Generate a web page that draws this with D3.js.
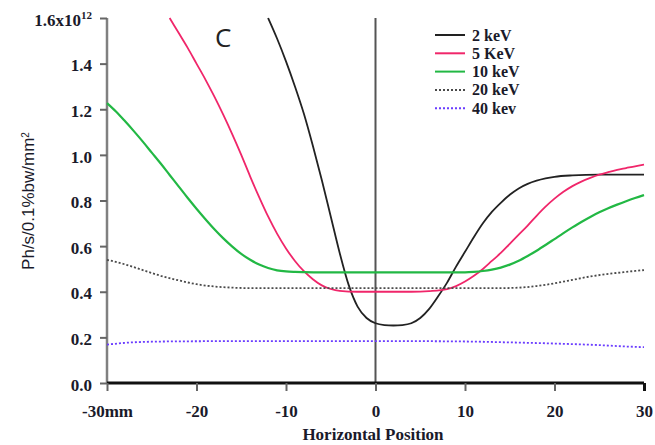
<!DOCTYPE html>
<html>
<head>
<meta charset="utf-8">
<script src="https://cdn.jsdelivr.net/npm/d3@7/dist/d3.min.js"></script>
<style>
  html, body { margin: 0; padding: 0; background: #fff; }
  svg { display: block; }
</style>
</head>
<body>
<svg id="chart" width="655" height="445"></svg>
<script>
// Horizontal flux profiles at several photon energies (units of 1e12 Ph/s/0.1%bw/mm^2)
const energies = ["2 keV", "5 KeV", "10 keV", "20 keV", "40 kev"];

const pos2keV = [-12, -11, -10, -9, -8, -7, -6, -5, -4, -3, -2, -1, 0, 1, 2, 3, 4, 5, 6, 7, 8, 9, 10, 11, 12, 13, 14, 15, 16, 17, 18, 19, 20, 22, 25, 30];
const flux2keV = [1.60, 1.51, 1.41, 1.30, 1.18, 1.04, 0.89, 0.73, 0.57, 0.43, 0.335, 0.285, 0.262, 0.254, 0.252, 0.254, 0.262, 0.285, 0.325, 0.38, 0.44, 0.51, 0.575, 0.64, 0.70, 0.75, 0.79, 0.825, 0.853, 0.873, 0.887, 0.897, 0.904, 0.91, 0.913, 0.913];

const pos5keV = [-23, -22, -21, -20, -19, -18, -17, -16, -15, -14, -13, -12, -11, -10, -9, -8, -7, -6, -5, -4, -2, 0, 2, 4, 6, 8, 9, 10, 11, 12, 13, 14, 15, 16, 17, 18, 19, 20, 21, 22, 23, 24, 25, 26, 27, 28, 29, 30];
const flux5keV = [1.60, 1.535, 1.47, 1.40, 1.33, 1.255, 1.175, 1.09, 1.00, 0.905, 0.815, 0.73, 0.655, 0.59, 0.535, 0.49, 0.455, 0.428, 0.412, 0.404, 0.40, 0.40, 0.40, 0.40, 0.403, 0.412, 0.425, 0.445, 0.47, 0.50, 0.535, 0.57, 0.61, 0.65, 0.69, 0.733, 0.773, 0.808, 0.838, 0.863, 0.883, 0.899, 0.913, 0.924, 0.934, 0.942, 0.95, 0.957];

const pos10keV = [-30, -29, -28, -27, -26, -25, -24, -23, -22, -21, -20, -19, -18, -17, -16, -15, -14, -13, -12, -11, -10, -9, -8, -6, 0, 10, 11, 12, 13, 14, 15, 16, 17, 18, 19, 20, 21, 22, 23, 24, 25, 26, 27, 28, 29, 30];
const flux10keV = [1.227, 1.19, 1.148, 1.104, 1.058, 1.01, 0.962, 0.912, 0.862, 0.812, 0.764, 0.718, 0.674, 0.634, 0.598, 0.566, 0.54, 0.519, 0.504, 0.494, 0.489, 0.487, 0.486, 0.485, 0.485, 0.485, 0.487, 0.491, 0.497, 0.506, 0.519, 0.536, 0.557, 0.58, 0.605, 0.631, 0.657, 0.682, 0.706, 0.728, 0.748, 0.766, 0.782, 0.797, 0.811, 0.824];

const pos20keV = [-30, -28, -26, -24, -22, -20, -18, -16, -14, 0, 14, 16, 18, 20, 22, 24, 26, 28, 30];
const flux20keV = [0.54, 0.52, 0.495, 0.47, 0.45, 0.433, 0.423, 0.418, 0.416, 0.416, 0.416, 0.418, 0.425, 0.437, 0.452, 0.467, 0.478, 0.487, 0.495];

const pos40keV = [-30, -28, -25, -20, -10, 0, 10, 15, 20, 25, 28, 30];
const flux40keV = [0.168, 0.176, 0.181, 0.183, 0.184, 0.184, 0.182, 0.178, 0.173, 0.166, 0.16, 0.157];

const xTicks = [-30, -20, -10, 0, 10, 20, 30];
const xTickLabels = ["-30mm", "-20", "-10", "0", "10", "20", "30"];
const yTicks = [0, 0.2, 0.4, 0.6, 0.8, 1.0, 1.2, 1.4, 1.6];
const yTickLabels = ["0.0", "0.2", "0.4", "0.6", "0.8", "1.0", "1.2", "1.4", "1.6x10"];

const seriesColors = ["#222222", "#f0266a", "#22b844", "#4a4a4a", "#6a3cff"];
const seriesDash = [null, null, null, "2,2", "2,2"];

const svg = d3.select("#chart");
const serif = "'Liberation Serif', 'DejaVu Serif', serif";

const x = d3.scaleLinear().domain([-30, 30]).range([107, 644]);
const y = d3.scaleLinear().domain([0, 1.6]).range([383, 18]);

// series table built from the arrays above
const positions = [pos2keV, pos5keV, pos10keV, pos20keV, pos40keV];
const fluxes = [flux2keV, flux5keV, flux10keV, flux20keV, flux40keV];
const series = energies.map((name, i) => ({
  name,
  color: seriesColors[i],
  dash: seriesDash[i],
  points: positions[i].map((p, j) => [p, fluxes[i][j]])
}));

// zero-position marker
svg.append("line")
  .attr("x1", x(0)).attr("x2", x(0))
  .attr("y1", y(1.6)).attr("y2", y(0))
  .attr("stroke", "#555").attr("stroke-width", 2);

// y axis
const yAxis = d3.axisLeft(y).tickValues(yTicks).tickSize(7)
  .tickFormat((d, i) => yTickLabels[i]);
const gy = svg.append("g").attr("transform", `translate(${x(-30)},0)`).call(yAxis);
gy.select(".domain").attr("stroke", "#808080").attr("stroke-width", 2.5).attr("d", `M0,${y(1.6)}V${y(0)}`);
gy.selectAll(".tick line").attr("stroke", "#666").attr("stroke-width", 2);
gy.selectAll(".tick text")
  .attr("font-family", serif).attr("font-size", 17).attr("font-weight", "bold").attr("fill", "#1a1a2a")
  .attr("x", -15).attr("dy", "0.42em");
gy.selectAll(".tick").filter(d => d === 1.6).select("text")
  .append("tspan").attr("dy", "-0.6em").attr("font-size", 11).text("12");

// x axis
const xAxis = d3.axisBottom(x).tickValues(xTicks).tickSize(8)
  .tickFormat((d, i) => xTickLabels[i]);
const gx = svg.append("g").attr("transform", `translate(0,${y(0)})`).call(xAxis);
gx.select(".domain").attr("stroke", "#111").attr("stroke-width", 3).attr("d", `M${x(-30)},0H${x(30)}`);
gx.selectAll(".tick line").attr("stroke", "#666").attr("stroke-width", 2);
gx.selectAll(".tick").filter(d => d === 30).select("line").attr("stroke", "#111").attr("stroke-width", 3);
gx.selectAll(".tick text")
  .attr("font-family", serif).attr("font-size", 17).attr("font-weight", "bold").attr("fill", "#1a1a2a")
  .attr("y", 22);

// curves
const line = d3.line().x(d => x(d[0])).y(d => y(d[1])).curve(d3.curveMonotoneX);
svg.append("g").selectAll("path").data(series).join("path")
  .attr("d", d => line(d.points))
  .attr("fill", "none")
  .attr("stroke", d => d.color)
  .attr("stroke-width", (d, i) => i === 2 ? 2.2 : 1.8)
  .attr("stroke-dasharray", d => d.dash);

// axis titles
svg.append("text")
  .attr("x", 373).attr("y", 440)
  .attr("text-anchor", "middle")
  .attr("font-family", serif).attr("font-size", 17).attr("font-weight", "bold").attr("fill", "#1a1a2a")
  .text("Horizontal Position");

const yTitle = svg.append("text")
  .attr("transform", "translate(34,201) rotate(-90)")
  .attr("text-anchor", "middle")
  .attr("font-family", "'Liberation Sans', Arial, sans-serif").attr("font-size", 17).attr("fill", "#1a1a2a");
yTitle.append("tspan").text("Ph/s/0.1%bw/mm");
yTitle.append("tspan").attr("dy", "-0.55em").attr("font-size", 10).text("2");

// panel letter
svg.append("text")
  .attr("x", 215).attr("y", 47)
  .attr("font-family", "'Open Sans', 'Liberation Sans', sans-serif").attr("font-size", 26).attr("fill", "#222")
  .text("C");

// legend
const legend = svg.append("g").attr("transform", "translate(435,35)");
const rows = legend.selectAll("g").data(series).join("g")
  .attr("transform", (d, i) => `translate(0,${i * 18.3})`);
rows.append("line")
  .attr("x1", 0).attr("x2", 30).attr("y1", 0).attr("y2", 0)
  .attr("stroke", d => d.color).attr("stroke-width", 2)
  .attr("stroke-dasharray", d => d.dash);
rows.append("text")
  .attr("x", 37).attr("y", 5.5)
  .attr("font-family", serif).attr("font-size", 16).attr("font-weight", "bold").attr("fill", "#1a1a2a")
  .text(d => d.name);
</script>
</body>
</html>
